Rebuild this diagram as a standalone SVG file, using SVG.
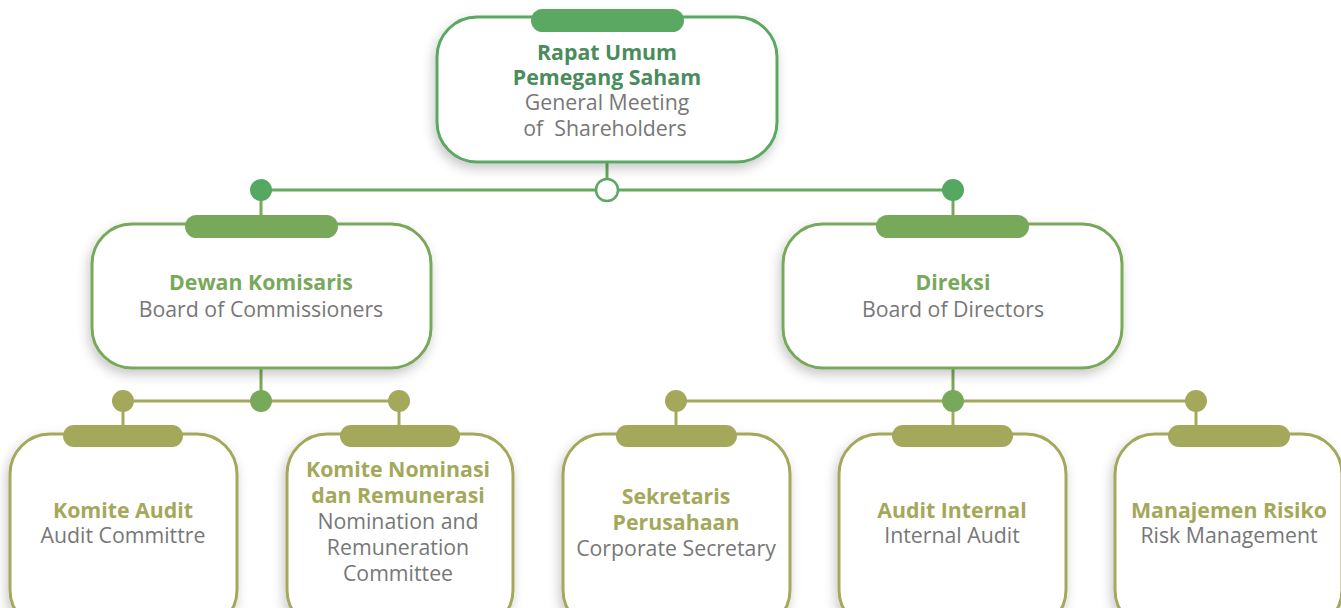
<svg xmlns="http://www.w3.org/2000/svg" width="1341" height="608" viewBox="0 0 1341 608">
<defs>
<filter id="sh" x="-20%" y="-20%" width="140%" height="150%">
<feDropShadow dx="-2" dy="5" stdDeviation="6" flood-color="#000" flood-opacity="0.22"/>
</filter>
</defs>
<style>
.box{fill:#fff;stroke-width:3;filter:url(#sh)}
.b1{stroke:#5aa862}.b2{stroke:#78a95a}.b3{stroke:#a4a85a}
.t1{fill:#5aa862}.t2{fill:#78a95a}.t3{fill:#a4a85a}
.ttl{font-family:"Open Sans","Noto Sans",sans-serif;font-weight:bold;font-size:21.3px;text-anchor:middle}
.sub{font-family:"Open Sans","Noto Sans",sans-serif;font-size:21.3px;fill:#777;text-anchor:middle}
.l1{stroke:#64aa5e;stroke-width:3;fill:none}
.l2{stroke:#78a95a;stroke-width:3;fill:none}
.l3{stroke:#a4a85a;stroke-width:3;fill:none}
</style>
<g id="connectors">
<line class="l1" x1="607" y1="162" x2="607" y2="190"/>
<line class="l1" x1="261" y1="190" x2="953" y2="190"/>
<line class="l2" x1="261" y1="190" x2="261" y2="216"/>
<line class="l2" x1="953" y1="190" x2="953" y2="216"/>
<line class="l2" x1="261" y1="368" x2="261" y2="401"/>
<line class="l2" x1="953" y1="368" x2="953" y2="401"/>
<line class="l3" x1="123" y1="401" x2="399" y2="401"/>
<line class="l3" x1="676" y1="401" x2="1196" y2="401"/>
<line class="l3" x1="123" y1="401" x2="123" y2="426"/>
<line class="l3" x1="399" y1="401" x2="399" y2="426"/>
<line class="l3" x1="676" y1="401" x2="676" y2="426"/>
<line class="l3" x1="953" y1="401" x2="953" y2="426"/>
<line class="l3" x1="1196" y1="401" x2="1196" y2="426"/>
<circle cx="607" cy="190" r="11" fill="#fff" stroke="#5aa862" stroke-width="2.5"/>
<circle cx="261" cy="190" r="11" fill="#55a862"/>
<circle cx="953" cy="190" r="11" fill="#55a862"/>
<circle cx="261" cy="401" r="11" fill="#78a95a"/>
<circle cx="953" cy="401" r="11" fill="#78a95a"/>
<circle cx="123" cy="401" r="11" fill="#a4a85a"/>
<circle cx="399" cy="401" r="11" fill="#a4a85a"/>
<circle cx="676" cy="401" r="11" fill="#a4a85a"/>
<circle cx="1196" cy="401" r="11" fill="#a4a85a"/>
</g>
<g id="rups">
<rect class="box b1" x="437" y="17" width="340" height="145" rx="40"/>
<rect class="t1" x="531" y="9" width="153" height="23" rx="11.5"/>
<text class="ttl" x="607" y="60" fill="#4a8c5c">Rapat Umum</text>
<text class="ttl" x="607" y="85" fill="#4a8c5c">Pemegang Saham</text>
<text class="sub" x="607" y="110">General Meeting</text>
<text class="sub" x="605" y="136" xml:space="preserve">of  Shareholders</text>
</g>
<g id="dekom">
<rect class="box b2" x="92" y="224" width="339" height="144" rx="40"/>
<rect class="t2" x="185" y="215" width="153" height="23" rx="11.5"/>
<text class="ttl t2" x="261" y="290">Dewan Komisaris</text>
<text class="sub" x="261" y="317">Board of Commissioners</text>
</g>
<g id="direksi">
<rect class="box b2" x="783" y="224" width="339" height="144" rx="40"/>
<rect class="t2" x="876" y="215" width="153" height="23" rx="11.5"/>
<text class="ttl t2" x="953" y="290">Direksi</text>
<text class="sub" x="953" y="317">Board of Directors</text>
</g>
<g id="komite-audit">
<rect class="box b3" x="10" y="434" width="227" height="196" rx="40"/>
<rect class="t3" x="63" y="425" width="120" height="22" rx="11"/>
<text class="ttl t3" x="123" y="518">Komite Audit</text>
<text class="sub" x="123" y="543">Audit Committre</text>
</g>
<g id="komite-nominasi">
<rect class="box b3" x="287" y="434" width="226" height="196" rx="40"/>
<rect class="t3" x="340" y="425" width="120" height="22" rx="11"/>
<text class="ttl t3" x="398" y="477">Komite Nominasi</text>
<text class="ttl t3" x="398" y="503">dan Remunerasi</text>
<text class="sub" x="398" y="529">Nomination and</text>
<text class="sub" x="398" y="555">Remuneration</text>
<text class="sub" x="398" y="581">Committee</text>
</g>
<g id="sekretaris">
<rect class="box b3" x="563" y="434" width="227" height="196" rx="40"/>
<rect class="t3" x="616" y="425" width="121" height="22" rx="11"/>
<text class="ttl t3" x="676" y="504">Sekretaris</text>
<text class="ttl t3" x="676" y="530">Perusahaan</text>
<text class="sub" x="676" y="556">Corporate Secretary</text>
</g>
<g id="audit-internal">
<rect class="box b3" x="839" y="434" width="227" height="196" rx="40"/>
<rect class="t3" x="892" y="425" width="121" height="22" rx="11"/>
<text class="ttl t3" x="952" y="518">Audit Internal</text>
<text class="sub" x="952" y="543">Internal Audit</text>
</g>
<g id="manajemen-risiko">
<rect class="box b3" x="1115" y="434" width="227" height="196" rx="40"/>
<rect class="t3" x="1168" y="425" width="122" height="22" rx="11"/>
<text class="ttl t3" x="1229" y="518">Manajemen Risiko</text>
<text class="sub" x="1229" y="543">Risk Management</text>
</g>
</svg>
